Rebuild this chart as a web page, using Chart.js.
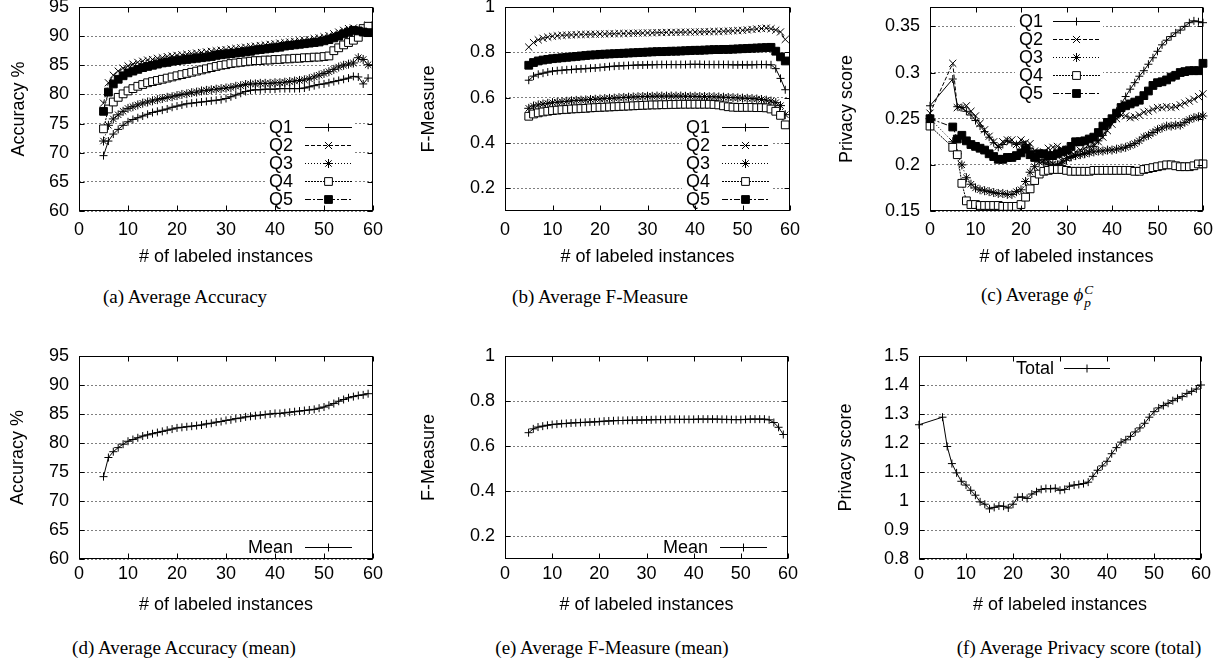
<!DOCTYPE html>
<html>
<head>
<meta charset="utf-8">
<script src="https://cdn.jsdelivr.net/npm/chart.js@4.4.1/dist/chart.umd.min.js"></script>
<style>
  body { margin: 0; background: #fff; width: 1228px; height: 663px; position: relative; overflow: hidden; }
  canvas { position: absolute; }
  .cap { position: absolute; font-family: "Liberation Serif", "DejaVu Serif", serif; font-size: 19px; white-space: nowrap; transform: translate(-50%, -50%); color: #000; }
  .ss { display: inline-block; vertical-align: -0.45em; line-height: 0.95; font-size: 0.7em; font-style: italic; margin-left: 1px; }
  .ss span { display: block; }
</style>
</head>
<body>
<canvas id="chartA"></canvas>
<canvas id="chartB"></canvas>
<canvas id="chartC"></canvas>
<canvas id="chartD"></canvas>
<canvas id="chartE"></canvas>
<canvas id="chartF"></canvas>

<div class="cap" style="left:185px;top:297px">(a) Average Accuracy</div>
<div class="cap" style="left:600px;top:297px">(b) Average F-Measure</div>
<div class="cap" style="left:1037px;top:297px">(c) Average <i>ϕ</i><span class="ss"><span>C</span><span>p</span></span></div>
<div class="cap" style="left:184px;top:648px">(d) Average Accuracy (mean)</div>
<div class="cap" style="left:612px;top:648px">(e) Average F-Measure (mean)</div>
<div class="cap" style="left:1079px;top:648px">(f) Average Privacy score (total)</div>

<script>
// x values (# of labeled instances)
const xLabeled = [5,6,7,8,9,10,11,12,13,14,15,16,17,18,19,20,21,22,23,24,25,26,27,28,29,30,31,32,33,34,35,36,37,38,39,40,41,42,43,44,45,46,47,48,49,50,51,52,53,54,55,56,57,58,59];
const xPrivacy = [0,5,6,7,8,9,10,11,12,13,14,15,16,17,18,19,20,21,22,23,24,25,26,27,28,29,30,31,32,33,34,35,36,37,38,39,40,41,42,43,44,45,46,47,48,49,50,51,52,53,54,55,56,57,58,59,60];

// (a) accuracy per quintile
const accQ1 = [69.5,72.0,73.2,74.0,74.7,75.3,75.7,76.0,76.3,76.6,76.9, 77.1,77.3,77.5,77.8,78.0,78.2,78.4,78.5,78.6,78.7, 78.8,78.9,79.0,79.1,79.3,79.6,79.9,80.2,80.5,80.7, 80.8,80.8,80.9,80.9,80.9,81.0,81.0,81.0,81.0,81.0, 81.1,81.3,81.5,81.7,81.8,82.0,82.2,82.4,82.6,82.8, 83.1,83.0,81.8,82.8];
const accQ2 = [78.5,82.0,83.3,84.0,84.5,84.9,85.2,85.5,85.7,85.9,86.0, 86.2,86.3,86.5,86.6,86.7,86.8,86.9,87.0,87.1,87.2, 87.3,87.4,87.5,87.6,87.7,87.8,87.9,88.0,88.1,88.2, 88.3,88.4,88.5,88.6,88.7,88.8,88.9,89.0,89.1,89.2, 89.3,89.4,89.6,89.7,89.9,90.1,90.4,90.7,91.0,91.3, 91.4,91.0,91.4,91.9];
const accQ3 = [72.0,74.7,75.8,76.5,77.1,77.6,77.9,78.2,78.5,78.7,78.9, 79.1,79.3,79.5,79.6,79.8,80.0,80.1,80.3,80.4,80.6, 80.7,80.8,80.9,81.0,81.1,81.2,81.4,81.5,81.7,81.8, 81.8,81.9,81.9,81.9,82.0,82.0,82.1,82.2,82.3,82.4, 82.5,82.7,83.0,83.3,83.6,83.9,84.3,84.7,85.0,85.2, 85.4,86.3,86.0,85.1];
const accQ4 = [74.1,77.5,78.7,79.5,80.1,80.6,81.0,81.4,81.7,82.0,82.2, 82.4,82.6,82.8,83.0,83.2,83.4,83.6,83.8,84.0,84.2, 84.4,84.6,84.8,85.0,85.1,85.3,85.4,85.5,85.6,85.7, 85.8,85.8,85.9,85.9,86.0,86.0,86.1,86.1,86.2,86.2, 86.3,86.3,86.4,86.4,86.5,86.6,87.5,88.0,88.5,88.9, 89.3,89.8,91.3,91.7];
const accQ5 = [77.1,80.4,81.8,82.6,83.2,83.7,84.0,84.3,84.6,84.8,85.0, 85.2,85.4,85.5,85.7,85.8,85.9,86.0,86.1,86.2,86.3, 86.4,86.5,86.7,86.8,86.9,87.0,87.1,87.2,87.3,87.4, 87.6,87.7,87.8,87.9,88.0,88.1,88.3,88.4,88.5,88.6, 88.7,88.8,88.9,89.0,89.2,89.4,89.7,90.0,90.4,90.7, 91.0,90.9,90.7,90.6];

// (b) F-measure per quintile
const fmQ1 = [0.677,0.695,0.703,0.708,0.713,0.717,0.719,0.721,0.723,0.724,0.726, 0.727,0.728,0.730,0.731,0.733,0.735,0.737,0.739,0.740,0.741, 0.742,0.743,0.744,0.744,0.745,0.745,0.746,0.746,0.746,0.746, 0.746,0.746,0.746,0.747,0.747,0.747,0.746,0.746,0.746,0.746, 0.746,0.746,0.745,0.745,0.745,0.745,0.745,0.746,0.746,0.746, 0.745,0.728,0.685,0.635];
const fmQ2 = [0.823,0.843,0.855,0.862,0.867,0.871,0.873,0.875,0.876,0.877,0.878, 0.879,0.879,0.880,0.880,0.881,0.881,0.882,0.882,0.883,0.883, 0.884,0.884,0.885,0.885,0.886,0.886,0.887,0.887,0.888,0.888, 0.888,0.889,0.889,0.889,0.890,0.890,0.891,0.891,0.892,0.892, 0.893,0.894,0.895,0.896,0.897,0.899,0.901,0.903,0.905,0.907, 0.904,0.898,0.890,0.857];
const fmQ3 = [0.553,0.563,0.568,0.572,0.575,0.578,0.580,0.582,0.584,0.586,0.588, 0.589,0.590,0.592,0.593,0.594,0.596,0.597,0.598,0.600,0.601, 0.602,0.603,0.604,0.605,0.606,0.606,0.607,0.607,0.607,0.607, 0.607,0.607,0.606,0.606,0.606,0.605,0.605,0.604,0.604,0.603, 0.602,0.601,0.600,0.599,0.598,0.597,0.596,0.594,0.592,0.589, 0.585,0.578,0.565,0.525];
const fmQ4 = [0.518,0.528,0.533,0.537,0.540,0.543,0.545,0.547,0.548,0.550,0.551, 0.552,0.553,0.555,0.556,0.557,0.558,0.559,0.560,0.561,0.562, 0.563,0.564,0.565,0.566,0.567,0.568,0.568,0.569,0.569,0.570, 0.570,0.571,0.571,0.571,0.571,0.571,0.571,0.571,0.570,0.568, 0.564,0.560,0.558,0.557,0.557,0.557,0.557,0.556,0.556,0.555, 0.550,0.540,0.522,0.480];
const fmQ5 = [0.743,0.755,0.762,0.766,0.769,0.772,0.774,0.776,0.778,0.780,0.782, 0.784,0.786,0.788,0.789,0.791,0.792,0.793,0.794,0.795,0.796, 0.797,0.798,0.799,0.800,0.801,0.802,0.803,0.803,0.804,0.805, 0.805,0.806,0.807,0.808,0.809,0.809,0.810,0.811,0.812,0.812, 0.813,0.813,0.814,0.815,0.816,0.817,0.818,0.819,0.820,0.821, 0.822,0.805,0.780,0.762];

// (c) privacy score per quintile
const prQ1 = [0.264, 0.293,0.263,0.262,0.258,0.254,0.248,0.242,0.236,0.230,0.224,0.219, 0.222,0.226,0.224,0.222,0.224,0.222,0.218,0.212,0.206,0.202, 0.200,0.199,0.200,0.202,0.205,0.208,0.210,0.211,0.212,0.215, 0.220,0.226,0.232,0.240,0.249,0.258,0.266,0.274,0.282,0.289, 0.296,0.302,0.309,0.316,0.323,0.330,0.335,0.339,0.343,0.346, 0.350,0.354,0.356,0.355,0.354];
const prQ2 = [0.256, 0.310,0.262,0.262,0.264,0.258,0.253,0.245,0.238,0.231,0.225,0.220, 0.225,0.227,0.227,0.222,0.227,0.224,0.223,0.215,0.212,0.214, 0.218,0.219,0.220,0.217,0.215,0.214,0.214,0.216,0.218,0.220, 0.222,0.225,0.230,0.237,0.244,0.250,0.254,0.253,0.251,0.252, 0.254,0.257,0.258,0.260,0.262,0.262,0.263,0.262,0.263,0.265, 0.267,0.269,0.271,0.274,0.277];
const prQ3 = [0.250, 0.225,0.212,0.200,0.186,0.179,0.175,0.173,0.172,0.171,0.170,0.169, 0.169,0.168,0.168,0.171,0.173,0.182,0.192,0.198,0.203,0.205, 0.203,0.201,0.200,0.204,0.207,0.209,0.210,0.211,0.212,0.213, 0.214,0.215,0.215,0.216,0.216,0.217,0.218,0.219,0.221,0.223, 0.226,0.230,0.232,0.235,0.238,0.240,0.242,0.242,0.243,0.243, 0.246,0.249,0.251,0.252,0.253];
const prQ4 = [0.242, 0.219,0.211,0.180,0.161,0.157,0.157,0.156,0.156,0.156,0.156,0.156, 0.155,0.155,0.155,0.155,0.157,0.165,0.174,0.183,0.190,0.193, 0.194,0.195,0.195,0.195,0.194,0.193,0.193,0.193,0.193,0.193, 0.194,0.194,0.194,0.194,0.194,0.194,0.194,0.194,0.194,0.193, 0.193,0.195,0.196,0.197,0.198,0.199,0.200,0.200,0.199,0.198, 0.198,0.198,0.199,0.201,0.201];
const prQ5 = [0.250, 0.241,0.228,0.232,0.226,0.222,0.220,0.218,0.216,0.212,0.209,0.206, 0.206,0.208,0.208,0.210,0.213,0.217,0.211,0.208,0.212,0.212, 0.210,0.210,0.212,0.214,0.216,0.220,0.225,0.225,0.226,0.228, 0.230,0.235,0.242,0.246,0.250,0.256,0.262,0.264,0.266,0.268, 0.270,0.275,0.280,0.286,0.289,0.290,0.292,0.295,0.297,0.300, 0.301,0.302,0.302,0.302,0.310];

// (d) (e) (f) aggregated
const accMean = [74.2,77.5,78.5,79.2,79.8,80.3,80.6,80.9,81.2,81.4,81.6, 81.8,82.0,82.2,82.4,82.6,82.7,82.8,82.9,83.0,83.1, 83.3,83.4,83.6,83.7,83.9,84.0,84.2,84.3,84.5,84.6, 84.7,84.8,84.9,85.0,85.1,85.1,85.2,85.3,85.4,85.5, 85.6,85.7,85.8,86.0,86.2,86.5,86.8,87.2,87.5,87.8, 88.0,88.2,88.3,88.5];
const fmMean = [0.660,0.677,0.685,0.689,0.693,0.696,0.698,0.700,0.701,0.703,0.704, 0.705,0.706,0.707,0.708,0.709,0.711,0.712,0.713,0.714,0.714, 0.715,0.715,0.716,0.716,0.717,0.717,0.718,0.718,0.718,0.719, 0.719,0.719,0.719,0.719,0.719,0.720,0.720,0.720,0.720,0.720, 0.719,0.719,0.718,0.718,0.718,0.719,0.720,0.720,0.720,0.720, 0.717,0.705,0.684,0.652];
const prTotal = [1.263, 1.289,1.188,1.129,1.097,1.068,1.055,1.037,1.020,0.997,0.989,0.973, 0.978,0.983,0.982,0.976,0.989,1.013,1.014,1.009,1.024,1.032, 1.040,1.043,1.042,1.044,1.037,1.040,1.051,1.055,1.057,1.060, 1.065,1.085,1.106,1.121,1.137,1.163,1.184,1.203,1.211,1.223, 1.238,1.252,1.268,1.289,1.308,1.321,1.329,1.337,1.346,1.354, 1.360,1.371,1.378,1.386,1.400];

// tick labels
const xTicks = [0,10,20,30,40,50,60];
const accTicks = [60,65,70,75,80,85,90,95];
const fmTicks = [0.2,0.4,0.6,0.8,1];
const prTicks = [0.15,0.2,0.25,0.3,0.35];
const totTicks = [0.8,0.9,1,1.1,1.2,1.3,1.4,1.5];
const qLabels = ['Q1','Q2','Q3','Q4','Q5'];

// gnuplot-like markers and dashes
const qStyles = [
  { point: 'cross', radius: 4, dash: [], fill: '#000' },
  { point: 'crossRot', radius: 5, dash: [4, 2], fill: '#000' },
  { point: 'star', radius: 4.5, dash: [1, 2], fill: '#000' },
  { point: 'rect', radius: 5.5, dash: [2, 1], fill: '#fff' },
  { point: 'rect', radius: 5.5, dash: [6, 2, 2, 2], fill: '#000' }
];

const FONT = '"Liberation Sans", Arial, sans-serif';
const FSIZE = 18;
Chart.defaults.font.family = FONT;
Chart.defaults.font.size = FSIZE;
Chart.defaults.color = '#000';

// frame, inward tick marks and the opaque key, drawn the way gnuplot does
const gnuFrame = {
  id: 'gnuFrame',
  beforeDatasetsDraw(chart, args, opts) {
    const k = opts.key;
    if (!k) return;
    const { ctx, chartArea: a } = chart;
    const n = chart.data.datasets.length;
    ctx.save();
    ctx.font = FSIZE + 'px ' + FONT;
    const w = Math.max(...chart.data.datasets.map(d => ctx.measureText(d.label).width));
    const x0 = a.right + k.text - w - 4, x1 = a.right + k.lineEnd + 3;
    const y0 = a.top + k.top - k.step / 2, y1 = a.top + k.top + k.step * (n - 0.5);
    ctx.fillStyle = '#fff';
    ctx.fillRect(x0, y0, x1 - x0, y1 - y0);
    ctx.restore();
  },
  afterDatasetsDraw(chart, args, opts) {
    const { ctx, chartArea: a, scales } = chart;
    const L = Math.round(a.left) + 0.5, R = Math.round(a.right) - 0.5;
    const T = Math.round(a.top) + 0.5, B = Math.round(a.bottom) - 0.5;
    ctx.save();
    ctx.strokeStyle = '#000';
    ctx.lineWidth = 1;
    ctx.setLineDash([]);
    ctx.beginPath();
    scales.x.ticks.forEach(t => {
      const p = Math.round(scales.x.getPixelForValue(t.value)) + 0.5;
      ctx.moveTo(p, B); ctx.lineTo(p, B - 5);
      ctx.moveTo(p, T); ctx.lineTo(p, T + 5);
    });
    scales.y.ticks.forEach(t => {
      const p = Math.round(scales.y.getPixelForValue(t.value)) + 0.5;
      ctx.moveTo(L, p); ctx.lineTo(L + 5, p);
      ctx.moveTo(R, p); ctx.lineTo(R - 5, p);
    });
    ctx.stroke();
    ctx.strokeRect(L, T, R - L, B - T);

    const k = opts.key;
    if (k) {
      ctx.font = FSIZE + 'px ' + FONT;
      ctx.textAlign = 'right';
      ctx.textBaseline = 'middle';
      chart.data.datasets.forEach((d, i) => {
        const y = Math.round(a.top + k.top + k.step * i) + 0.5;
        ctx.fillStyle = '#000';
        ctx.fillText(d.label, a.right + k.text, y + 1);
        ctx.strokeStyle = '#000';
        ctx.setLineDash(d.borderDash || []);
        ctx.beginPath();
        ctx.moveTo(a.right + k.lineStart, y);
        ctx.lineTo(a.right + k.lineEnd, y);
        ctx.stroke();
        ctx.setLineDash([]);
        ctx.fillStyle = d.pointBackgroundColor;
        Chart.helpers.drawPoint(ctx, { pointStyle: d.pointStyle, radius: d.pointRadius, rotation: 0, borderWidth: 1 },
          a.right + (k.lineStart + k.lineEnd) / 2, y);
      });
    }
    ctx.restore();
  }
};

function makePanel(id, box, area, cfg) {
  const el = document.getElementById(id);
  el.width = box.width;
  el.height = box.height;
  el.style.left = box.left + 'px';
  el.style.top = box.top + 'px';
  const datasets = cfg.series.map((s, i) => ({
    label: s.label,
    data: s.xs.map((x, j) => ({ x: x, y: s.ys[j] })),
    borderColor: '#000',
    borderWidth: 1,
    borderDash: s.style.dash,
    pointStyle: s.style.point,
    pointRadius: s.style.radius,
    pointBorderColor: '#000',
    pointBackgroundColor: s.style.fill,
    pointBorderWidth: 1,
    tension: 0,
    clip: 8,
    order: cfg.series.length - i
  }));
  new Chart(el, {
    type: 'line',
    data: { datasets },
    options: {
      responsive: false,
      animation: false,
      events: [],
      layout: { padding: { top: area.top - box.top, right: box.left + box.width - area.right, left: 0, bottom: 0 } },
      plugins: { legend: { display: false }, tooltip: { enabled: false }, gnuFrame: { key: cfg.key } },
      scales: {
        x: {
          type: 'linear', min: 0, max: 60,
          afterBuildTicks: s => { s.ticks = xTicks.map(v => ({ value: v })); },
          afterFit: s => { s.height = box.top + box.height - area.bottom; s.paddingLeft = 0; s.paddingRight = 0; },
          grid: { display: false, drawTicks: false },
          border: { display: false },
          ticks: { padding: cfg.xTickPad, maxRotation: 0, autoSkip: false },
          title: { display: true, text: '# of labeled instances', padding: { top: 0, bottom: cfg.xTitlePad } }
        },
        y: {
          type: 'linear', min: cfg.yMin, max: cfg.yMax,
          afterBuildTicks: s => { s.ticks = cfg.yTicks.map(v => ({ value: v })); },
          afterFit: s => { s.width = area.left - box.left; s.paddingTop = 0; s.paddingBottom = 0; },
          grid: { color: 'rgba(0,0,0,0.5)', lineWidth: 1, drawTicks: false },
          border: { display: false, dash: [2, 2] },
          ticks: { padding: 10, autoSkip: false, callback: v => String(v) },
          title: { display: true, text: cfg.yTitle, padding: { top: cfg.yTitlePad, bottom: 0 } }
        }
      }
    },
    plugins: [gnuFrame]
  });
}

const quint = (xs, arrs) => arrs.map((ys, i) => ({ label: qLabels[i], xs: xs, ys: ys, style: qStyles[i] }));
const keyQ = { text: -80, lineStart: -68, lineEnd: -21, top: 120, step: 18 };

makePanel('chartA', { left: 0, top: 0, width: 385, height: 270 }, { left: 79, top: 7, right: 373, bottom: 211 }, {
  series: quint(xLabeled, [accQ1, accQ2, accQ3, accQ4, accQ5]),
  yMin: 60, yMax: 95, yTicks: accTicks, yTitle: 'Accuracy %', yTitlePad: 8, xTickPad: 8, xTitlePad: 2, key: keyQ
});
makePanel('chartB', { left: 410, top: 0, width: 390, height: 270 }, { left: 505, top: 7, right: 790, bottom: 211 }, {
  series: quint(xLabeled, [fmQ1, fmQ2, fmQ3, fmQ4, fmQ5]),
  yMin: 0.1, yMax: 1, yTicks: fmTicks, yTitle: 'F-Measure', yTitlePad: 8, xTickPad: 8, xTitlePad: 2, key: keyQ
});
makePanel('chartC', { left: 820, top: 0, width: 408, height: 270 }, { left: 930, top: 7, right: 1203, bottom: 211 }, {
  series: quint(xPrivacy, [prQ1, prQ2, prQ3, prQ4, prQ5]),
  yMin: 0.15, yMax: 0.371, yTicks: prTicks, yTitle: 'Privacy score', yTitlePad: 16, xTickPad: 8, xTitlePad: 2,
  key: { text: -160, lineStart: -150, lineEnd: -103, top: 14, step: 18 }
});
makePanel('chartD', { left: 0, top: 340, width: 385, height: 280 }, { left: 79, top: 356, right: 373, bottom: 559 }, {
  series: [{ label: 'Mean', xs: xLabeled, ys: accMean, style: qStyles[0] }],
  yMin: 60, yMax: 95, yTicks: accTicks, yTitle: 'Accuracy %', yTitlePad: 7, xTickPad: 4, xTitlePad: 4,
  key: { text: -80, lineStart: -68, lineEnd: -21, top: 191, step: 18 }
});
makePanel('chartE', { left: 410, top: 340, width: 390, height: 280 }, { left: 505, top: 356, right: 788, bottom: 559 }, {
  series: [{ label: 'Mean', xs: xLabeled, ys: fmMean, style: qStyles[0] }],
  yMin: 0.1, yMax: 1, yTicks: fmTicks, yTitle: 'F-Measure', yTitlePad: 8, xTickPad: 4, xTitlePad: 4,
  key: { text: -80, lineStart: -68, lineEnd: -21, top: 191, step: 18 }
});
makePanel('chartF', { left: 820, top: 340, width: 408, height: 280 }, { left: 919, top: 356, right: 1201, bottom: 559 }, {
  series: [{ label: 'Total', xs: xPrivacy, ys: prTotal, style: qStyles[0] }],
  yMin: 0.8, yMax: 1.5, yTicks: totTicks, yTitle: 'Privacy score', yTitlePad: 15, xTickPad: 4, xTitlePad: 4,
  key: { text: -147, lineStart: -137, lineEnd: -91, top: 12, step: 18 }
});
</script>
</body>
</html>
